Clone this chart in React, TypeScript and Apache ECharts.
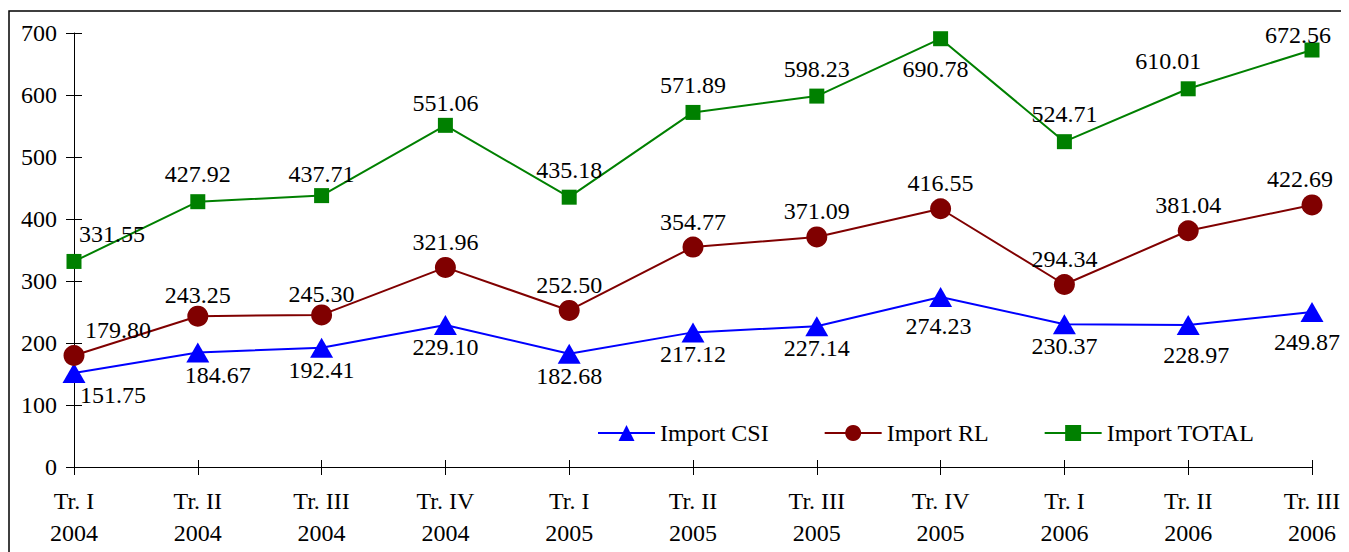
import React, { useEffect, useRef } from "react";
import * as echarts from "echarts";

const categories = [
  "Tr. I\n2004", "Tr. II\n2004", "Tr. III\n2004", "Tr. IV\n2004",
  "Tr. I\n2005", "Tr. II\n2005", "Tr. III\n2005", "Tr. IV\n2005",
  "Tr. I\n2006", "Tr. II\n2006", "Tr. III\n2006",
];
const importCSI = [151.75, 184.67, 192.41, 229.10, 182.68, 217.12, 227.14, 274.23, 230.37, 228.97, 249.87];
const importRL = [179.80, 243.25, 245.30, 321.96, 252.50, 354.77, 371.09, 416.55, 294.34, 381.04, 422.69];
const importTotal = [331.55, 427.92, 437.71, 551.06, 435.18, 571.89, 598.23, 690.78, 524.71, 610.01, 672.56];
const seriesNames = ["Import CSI", "Import RL", "Import TOTAL"];

const FONT = '"Liberation Serif", "Times New Roman", Times, serif';
const FS = 24;

export default function App() {
  const ref = useRef<HTMLDivElement>(null);
  useEffect(() => {
    if (!ref.current) return;
    const chart = echarts.init(ref.current, undefined, { renderer: "svg" });
    const fmt = (p: any) => Number(p.value).toFixed(2);
    const baseLabel = { show: true, fontFamily: FONT, fontSize: FS, color: "#000", formatter: fmt };

    const csiOverrides: Record<number, any> = {
      0: { offset: [39, 0] },
      1: { offset: [20, 0] },
      7: { offset: [-2, 7] },
      9: { offset: [8, 8] },
      10: { offset: [-5, 8] },
    };
    const rlOverrides: Record<number, any> = {
      0: { offset: [44, 0] },
      1: { offset: [0, 4] },
      2: { offset: [0, 5] },
      10: { offset: [-12, 0] },
    };
    const totOverrides: Record<number, any> = {
      0: { offset: [38, 0] },
      2: { offset: [0, 6] },
      3: { offset: [0, 5] },
      7: { position: "bottom", offset: [-5, 3] },
      9: { offset: [-20, 0] },
      10: { offset: [-14, 12] },
    };
    const mk = (arr: number[], ov: Record<number, any>) =>
      arr.map((v, i) => (ov[i] ? { value: v, label: ov[i] } : v));

    chart.setOption({
      animation: false,
      textStyle: { fontFamily: FONT },
      graphic: [
        {
          type: "rect",
          shape: { x: 1, y: 3, width: 1338, height: 620 },
          style: { fill: "none", stroke: "#000", lineWidth: 1.5 },
          silent: true,
        },
      ],
      grid: { left: 66, right: 37, top: 25, bottom: 85, containLabel: false },
      legend: {
        data: seriesNames,
        left: 584,
        top: 408,
        itemWidth: 57,
        itemHeight: 20,
        itemGap: 55,
        textStyle: { fontFamily: FONT, fontSize: FS, color: "#000" },
      },
      xAxis: [
        {
          type: "category",
          data: categories,
          boundaryGap: false,
          axisLine: { lineStyle: { color: "#000", width: 1 } },
          axisTick: { length: 8, lineStyle: { color: "#000" } },
          axisLabel: { fontFamily: FONT, fontSize: FS, color: "#000", lineHeight: 32, margin: 18, interval: 0 },
        },
        {
          type: "category",
          data: categories,
          boundaryGap: false,
          position: "bottom",
          axisLine: { show: false },
          axisTick: { inside: true, length: 7, lineStyle: { color: "#000" } },
          axisLabel: { show: false },
        },
      ],
      yAxis: [
        {
          type: "value",
          min: 0,
          max: 700,
          interval: 100,
          axisLine: { show: true, lineStyle: { color: "#000", width: 1 } },
          axisTick: { show: true, length: 8, lineStyle: { color: "#000" } },
          splitLine: { show: false },
          axisLabel: { fontFamily: FONT, fontSize: FS, color: "#000", margin: 17 },
        },
        {
          type: "value",
          min: 0,
          max: 700,
          interval: 100,
          position: "left",
          offset: 0,
          axisLine: { show: false },
          axisTick: { show: true, inside: true, length: 8, lineStyle: { color: "#000" } },
          splitLine: { show: false },
          axisLabel: { show: false },
        },
      ],
      series: [
        {
          name: seriesNames[0],
          type: "line",
          data: mk(importCSI, csiOverrides),
          symbol: "triangle",
          symbolSize: [23, 20],
          itemStyle: { color: "#0000FF" },
          lineStyle: { color: "#0000FF", width: 2 },
          label: { ...baseLabel, position: "bottom", distance: 0 },
          z: 3,
        },
        {
          name: seriesNames[1],
          type: "line",
          data: mk(importRL, rlOverrides),
          symbol: "circle",
          symbolSize: 21,
          itemStyle: { color: "#800000" },
          lineStyle: { color: "#800000", width: 2 },
          label: { ...baseLabel, position: "top", distance: 3 },
          z: 3,
        },
        {
          name: seriesNames[2],
          type: "line",
          data: mk(importTotal, totOverrides),
          symbol: "rect",
          symbolSize: 15,
          itemStyle: { color: "#008000" },
          lineStyle: { color: "#008000", width: 2 },
          label: { ...baseLabel, position: "top", distance: 8 },
          z: 3,
        },
      ],
    });
    return () => chart.dispose();
  }, []);
  return <div ref={ref} style={{ width: 1341, height: 544 }} />;
}
